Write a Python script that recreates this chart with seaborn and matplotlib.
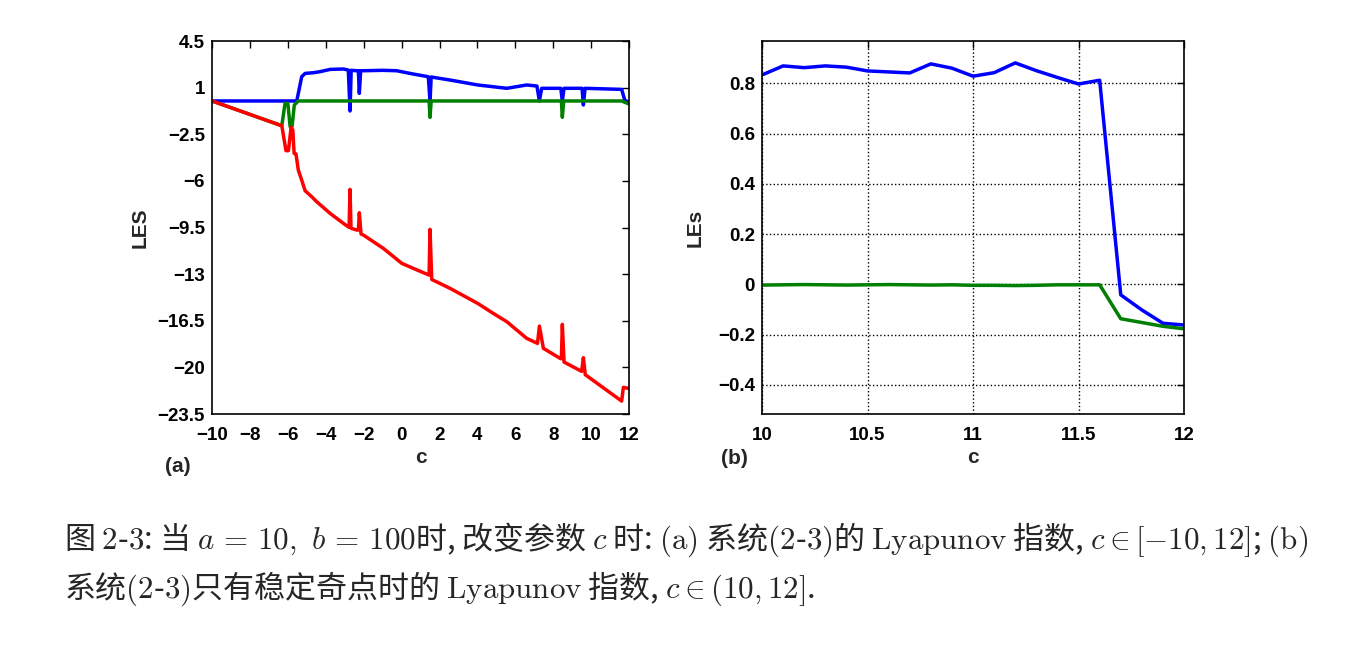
import matplotlib
matplotlib.use("Agg")
import matplotlib.pyplot as plt
import seaborn as sns

# ---- (a) Lyapunov exponents, c in [-10, 12] ----
c_blue = [-10, -5.53, -5.27, -5.09, -4.65, -4.3, -3.77, -3.07, -2.81, -2.72, -2.66,
          -2.37, -2.28, -2.23, -2.16, -2.02, -1.0, -0.26, 0.62, 1.41, 1.5, 1.56,
          2.56, 4.02, 5.55, 6.6, 7.14, 7.27, 7.39, 8.4, 8.48, 8.57, 9.52, 9.59, 9.68,
          11.61, 11.77, 12.0]
le_blue = [0, 0, 1.82, 2.07, 2.12, 2.2, 2.37, 2.4, 2.32, -0.75, 2.3,
           2.27, 2.27, 0.57, 2.27, 2.27, 2.3, 2.27, 2.02, 1.82, -0.05, 1.8,
           1.57, 1.2, 0.95, 1.2, 1.12, 0.0, 0.95, 0.95, 0.0, 0.95, 0.95, -0.3, 0.95,
           0.87, 0.07, -0.13]

c_green = [-10, -6.32, -6.15, -6.0, -5.88, -5.78, -5.66, -5.45, 1.45, 1.5, 1.56,
           8.43, 8.48, 8.55, 11.61, 12.0]
le_green = [0, -1.86, -0.18, -0.2, -1.93, -1.93, -0.3, 0, 0, -1.23, 0,
            0, -1.23, 0, 0, -0.23]

c_red = [-10, -6.32, -6.1, -5.97, -5.83, -5.74, -5.67, -5.57, -5.45, -5.27, -5.09,
         -4.74, -4.48, -3.77, -3.07, -2.77, -2.72, -2.67, -2.37, -2.28, -2.23, -2.14,
         -2.02, -0.96, 0.01, 0.62, 1.45, 1.5, 1.59, 2.56, 4.02, 4.84, 5.55, 6.6,
         7.17, 7.27, 7.48, 8.36, 8.43, 8.48, 8.57, 9.5, 9.59, 9.69, 11.61, 11.7, 12.0]
le_red = [0, -1.86, -3.73, -3.73, -1.98, -2.18, -3.93, -3.98, -5.18, -5.94, -6.74,
          -7.19, -7.56, -8.44, -9.19, -9.49, -6.64, -9.55, -9.69, -9.69, -8.39, -9.99,
          -10.06, -11.07, -12.19, -12.57, -13.07, -9.64, -13.4, -14.07, -15.2, -15.95, -16.57, -17.82,
          -18.2, -16.9, -18.57, -19.32, -19.35, -16.77, -19.6, -20.3, -19.27, -20.55, -22.53, -21.5, -21.58]

yticks_a = [4.5, 1, -2.5, -6, -9.5, -13, -16.5, -20, -23.5]
xticks_a = list(range(-10, 13, 2))

# ---- (b) c in (10, 12] ----
c_b = [10.0, 10.1, 10.2, 10.3, 10.4, 10.5, 10.6, 10.7, 10.8, 10.9, 11.0,
       11.1, 11.2, 11.3, 11.4, 11.5, 11.6, 11.7, 11.8, 11.9, 12.0]
le1_b = [0.833, 0.869, 0.862, 0.869, 0.864, 0.849, 0.845, 0.841, 0.877, 0.860, 0.828,
         0.842, 0.881, 0.850, 0.823, 0.797, 0.812, -0.042, -0.102, -0.155, -0.162]
le2_b = [-0.003, -0.002, -0.001, -0.002, -0.003, -0.002, -0.001, -0.002, -0.003, -0.002, -0.004,
         -0.004, -0.005, -0.004, -0.002, -0.002, -0.002, -0.137, -0.152, -0.167, -0.177]

yticks_b = [-0.4, -0.2, 0, 0.2, 0.4, 0.6, 0.8]
xticks_b = [10, 10.5, 11, 11.5, 12]

caption1 = (r"图 $\mathrm{2}$-$\mathrm{3}$: 当 $a \,=\, 10,\ b \,=\, 100$时, 改变参数 $c$ 时: "
            r"$\mathrm{(a)}$ 系统$\mathrm{(2}$-$\mathrm{3)}$的 $\mathrm{Lyapunov}$ 指数, "
            r"$c \in [-10, 12]$; $\mathrm{(b)}$")
caption2 = (r"系统$\mathrm{(2}$-$\mathrm{3)}$只有稳定奇点时的 $\mathrm{Lyapunov}$ 指数, "
            r"$c \in (10, 12]$.")

sns.set_style("white")
plt.rcParams['font.family'] = ['Liberation Sans', 'DejaVu Sans']
plt.rcParams['mathtext.fontset'] = 'cm'

BLUE, GREEN, RED = "#0000ff", "#008000", "#ff0000"
LABEL_FONT = dict(fontsize=15, fontweight="bold")


def fmt(v):
    return f"{v:g}".replace("-", "\u2212")


fig = plt.figure(figsize=(13.61, 6.48), dpi=100)
ax1 = fig.add_axes([0.1558, 0.3611, 0.3064, 0.5756])
ax2 = fig.add_axes([0.5599, 0.3611, 0.3101, 0.5756])

# panel (a)
sns.lineplot(x=c_blue, y=le_blue, ax=ax1, color=BLUE, lw=2.5, estimator=None, sort=False)
sns.lineplot(x=c_green, y=le_green, ax=ax1, color=GREEN, lw=2.5, estimator=None, sort=False)
sns.lineplot(x=c_red, y=le_red, ax=ax1, color=RED, lw=2.5, estimator=None, sort=False)
ax1.set_xlim(-10, 12)
ax1.set_ylim(-23.5, 4.5)
ax1.set_xticks(xticks_a)
ax1.set_xticklabels([fmt(v) for v in xticks_a])
ax1.set_yticks(yticks_a)
ax1.set_yticklabels([fmt(v) for v in yticks_a])
ax1.set_xlabel("c", **LABEL_FONT)
ax1.set_ylabel("LES", **LABEL_FONT)
ax1.xaxis.set_label_coords(0.5, -0.09)
ax1.yaxis.set_label_coords(-0.15, 0.5)
ax1.text(-0.113, -0.14, "(a)", transform=ax1.transAxes, ha="left", va="center", **LABEL_FONT)

# panel (b)
sns.lineplot(x=c_b, y=le1_b, ax=ax2, color=BLUE, lw=2.5, estimator=None, sort=False)
sns.lineplot(x=c_b, y=le2_b, ax=ax2, color=GREEN, lw=2.5, estimator=None, sort=False)
ax2.set_xlim(10, 12)
ax2.set_ylim(-0.516, 0.968)
ax2.set_xticks(xticks_b)
ax2.set_xticklabels([fmt(v) for v in xticks_b])
ax2.set_yticks(yticks_b)
ax2.set_yticklabels([fmt(round(v, 1)) for v in yticks_b])
ax2.grid(True, ls=":", color="k", lw=1)
ax2.set_xlabel("c", **LABEL_FONT)
ax2.set_ylabel("LEs", **LABEL_FONT)
ax2.xaxis.set_label_coords(0.5, -0.09)
ax2.yaxis.set_label_coords(-0.135, 0.5)
ax2.text(-0.097, -0.12, "(b)", transform=ax2.transAxes, ha="left", va="center", **LABEL_FONT)

for ax in (ax1, ax2):
    for s in ax.spines.values():
        s.set_color("k")
        s.set_linewidth(1.2)
    ax.tick_params(direction="in", top=True, right=True, length=5, width=1,
                   labelsize=13.5, colors="k")
    ax.tick_params(axis="x", pad=9)
    ax.tick_params(axis="y", pad=5)
    for lab in ax.get_xticklabels() + ax.get_yticklabels():
        lab.set_fontweight("bold")

fig.text(64 / 1361, 1 - 540 / 648, caption1, fontsize=22.3, family="Noto Sans CJK SC",
         ha="left", va="center")
fig.text(64 / 1361, 1 - 589 / 648, caption2, fontsize=22.3, family="Noto Sans CJK SC",
         ha="left", va="center")

fig.savefig("out.png", dpi=100)
